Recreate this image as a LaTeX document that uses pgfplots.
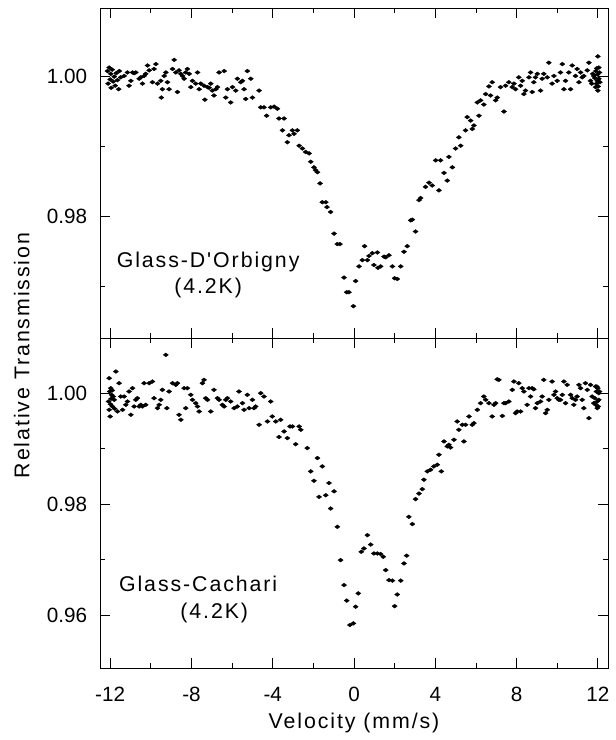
\documentclass[border=0pt]{standalone}
\usepackage{fontspec}
\setmainfont{Liberation Sans}
\newfontfamily\spaced[LetterSpace=9]{Liberation Sans}
\usepackage{pgfplots}
\pgfplotsset{compat=1.18}

\pgfplotsset{
  panel/.style={
    scale only axis,
    width=381pt, height=247.5pt,
    xmin=-12.5, xmax=12.5,
    xtick={-12,-8,...,12},
    minor x tick num=1,
    minor ytick={0.97,0.99},
    tick align=inside,
    major tick length=7.5pt,
    minor tick length=3.75pt,
    every tick/.style={black, line width=0.6pt},
    axis line style={line width=0.6pt},
    scaled y ticks=false,
    /pgf/number format/assume math mode=true,
    tick label style={font=\fontsize{15.5}{18}\selectfont, inner sep=0pt},
    xticklabel style={anchor=base, yshift=-25pt},
    yticklabel style={anchor=east, xshift=-9.5pt,
      /pgf/number format/fixed, /pgf/number format/fixed zerofill,
      /pgf/number format/precision=2},
  },
  spec/.style={only marks, mark=diamond*, mark size=1.95pt,
    mark options={rotate=90, draw=black, fill=black, line width=0.25pt}},
}
\tikzset{note/.style={anchor=base, inner sep=0pt, font=\spaced\fontsize{16}{18}\selectfont}}

\begin{document}
\begin{tikzpicture}
\useasboundingbox (-75pt,-53.8pt) rectangle (386.25pt,501.2pt);

% lower panel: Glass-Cachari
\begin{axis}[panel,
  ymin=0.9504, ymax=1.0099,
  ytick={0.96,0.98,1.00},
  xlabel={\spaced Velocity (mm/s)},
  xlabel style={at={(axis description cs:0.5,0)}, anchor=base, yshift=-44.8pt,
    inner sep=0pt, font=\fontsize{16}{18}\selectfont},
]
\addplot[spec] coordinates {
(-12.08,0.9985) (-12.05,1.0027) (-12.05,0.9970) (-12.02,1.0003) (-12.00,0.9958)
(-11.98,0.9980) (-11.97,1.0009) (-11.95,0.9990) (-11.93,0.9997) (-11.90,1.0005)
(-11.89,0.9976) (-11.85,0.9994) (-11.80,0.9988) (-11.78,0.9972) (-11.72,1.0039)
(-11.64,0.9967) (-11.56,1.0018) (-11.48,0.9994) (-11.39,0.9970) (-11.31,0.9994)
(-11.23,0.9979) (-11.15,0.9985) (-11.07,1.0003) (-10.98,0.9961) (-10.90,1.0009)
(-10.82,0.9976) (-10.74,0.9988) (-10.66,0.9991) (-10.57,0.9976) (-10.49,0.9979)
(-10.41,0.9976) (-10.33,1.0018) (-10.25,0.9979) (-10.08,1.0018) (-9.92,1.0021)
(-9.84,0.9991) (-9.67,0.9973) (-9.59,0.9979) (-9.51,0.9988) (-9.43,1.0006)
(-9.26,1.0069) (-9.21,0.9973) (-9.10,1.0003) (-8.93,1.0018) (-8.77,1.0015)
(-8.69,1.0018) (-8.61,0.9961) (-8.52,0.9952) (-8.36,1.0009) (-8.28,0.9973)
(-8.20,1.0009) (-8.03,0.9997) (-7.95,0.9988) (-7.79,0.9982) (-7.70,0.9976)
(-7.62,0.9967) (-7.46,1.0018) (-7.38,1.0024) (-7.30,0.9991) (-7.21,0.9988)
(-7.05,0.9967) (-6.89,1.0006) (-6.72,0.9991) (-6.64,0.9988) (-6.48,0.9979)
(-6.39,0.9976) (-6.31,0.9988) (-6.23,0.9991) (-6.07,0.9985) (-5.90,0.9973)
(-5.74,0.9976) (-5.66,1.0003) (-5.49,0.9982) (-5.41,0.9970) (-5.25,0.9997)
(-5.16,0.9973) (-5.00,0.9988) (-4.92,0.9973) (-4.84,0.9976) (-4.67,0.9943)
(-4.59,1.0000) (-4.43,0.9994) (-4.26,0.9949) (-4.10,0.9985) (-4.02,0.9958)
(-3.85,0.9949) (-3.69,0.9921) (-3.61,0.9952) (-3.44,0.9931) (-3.28,0.9919)
(-3.15,0.9940) (-3.03,0.9940) (-2.87,0.9908) (-2.70,0.9940) (-2.62,0.9934)
(-2.30,0.9901) (-2.13,0.9859) (-1.97,0.9842) (-1.80,0.9883) (-1.72,0.9813)
(-1.56,0.9868) (-1.39,0.9816) (-1.23,0.9838) (-1.15,0.9792) (-0.98,0.9823)
(-0.82,0.9759) (-0.66,0.9699) (-0.49,0.9654) (-0.36,0.9626) (-0.20,0.9582)
(-0.03,0.9585) (0.08,0.9615) (0.21,0.9639) (0.36,0.9714) (0.49,0.9720)
(0.66,0.9744) (0.82,0.9727) (0.98,0.9711) (1.15,0.9711) (1.31,0.9710)
(1.44,0.9705) (1.56,0.9681) (1.72,0.9663) (1.89,0.9662) (2.00,0.9616)
(2.13,0.9637) (2.30,0.9662) (2.46,0.9693) (2.59,0.9707) (2.70,0.9777)
(2.87,0.9764) (3.03,0.9809) (3.20,0.9819) (3.36,0.9827) (3.44,0.9844)
(3.61,0.9859) (3.77,0.9862) (3.93,0.9868) (4.10,0.9871) (4.18,0.9889)
(4.30,0.9859) (4.43,0.9913) (4.59,0.9904) (4.67,0.9907) (4.75,0.9902)
(4.92,0.9916) (5.08,0.9949) (5.16,0.9934) (5.33,0.9943) (5.41,0.9913)
(5.49,0.9943) (5.66,0.9958) (5.82,0.9943) (5.90,0.9946) (6.07,0.9970)
(6.23,0.9982) (6.39,0.9994) (6.48,0.9988) (6.64,0.9982) (6.80,0.9958)
(6.89,0.9979) (6.97,0.9982) (7.05,1.0025) (7.13,1.0024) (7.30,0.9959)
(7.38,0.9982) (7.46,0.9982) (7.62,0.9985) (7.79,1.0006) (7.87,1.0021)
(7.95,0.9964) (8.03,0.9967) (8.11,1.0018) (8.20,0.9967) (8.28,1.0009)
(8.36,1.0003) (8.52,0.9979) (8.61,1.0009) (8.69,0.9994) (8.77,1.0009)
(8.85,1.0007) (8.93,0.9973) (9.02,0.9982) (9.18,0.9985) (9.26,0.9994)
(9.34,1.0024) (9.43,0.9964) (9.51,0.9970) (9.59,0.9988) (9.75,1.0021)
(9.84,0.9997) (9.92,1.0003) (10.00,0.9991) (10.08,0.9988) (10.16,0.9988)
(10.25,0.9997) (10.33,1.0021) (10.41,0.9982) (10.49,1.0015) (10.66,0.9997)
(10.74,0.9991) (10.82,0.9979) (10.90,0.9988) (10.98,0.9994) (11.07,1.0015)
(11.15,1.0009) (11.23,0.9988) (11.31,0.9973) (11.39,1.0018) (11.48,1.0006)
(11.56,0.9955) (11.64,1.0015) (11.72,0.9994) (11.80,0.9982) (11.85,0.9991)
(11.89,1.0012) (11.90,0.9979) (11.93,1.0003) (11.95,1.0012) (11.97,0.9973)
(11.97,0.9985) (12.00,1.0009) (12.02,0.9976) (12.05,1.0000) (12.05,0.9988)
(12.08,1.0003)
};
\node[note] at (axis cs:-7.67,0.96419) {Glass-Cachari};
\node[note] at (axis cs:-6.88,0.95939) {(4.2K)};
\end{axis}

% upper panel: Glass-D'Orbigny
\begin{axis}[panel,
  at={(0pt,247.5pt)}, anchor=south west,
  ymin=0.9625, ymax=1.0098,
  ytick={0.98,1.00},
  xticklabels={},
]
\addplot[spec] coordinates {
(-12.13,1.0008) (-12.10,0.9990) (-12.05,1.0013) (-12.00,0.9996) (-11.97,1.0004)
(-11.95,0.9984) (-11.90,1.0010) (-11.85,0.9993) (-11.80,1.0000) (-11.75,0.9987)
(-11.70,1.0005) (-11.64,0.9995) (-11.58,0.9982) (-11.55,1.0008) (-11.48,0.9999)
(-11.31,1.0001) (-11.15,1.0006) (-11.07,0.9987) (-10.98,0.9994) (-10.90,1.0006)
(-10.82,1.0005) (-10.74,1.0006) (-10.57,0.9997) (-10.49,0.9999) (-10.41,0.9990)
(-10.33,1.0001) (-10.25,1.0004) (-10.16,1.0016) (-10.08,1.0009) (-9.92,0.9992)
(-9.84,1.0011) (-9.75,1.0018) (-9.67,0.9990) (-9.51,0.9994) (-9.48,0.9970)
(-9.43,0.9982) (-9.34,1.0001) (-9.26,1.0006) (-9.18,0.9992) (-9.10,0.9982)
(-8.93,1.0011) (-8.85,1.0024) (-8.77,1.0006) (-8.69,0.9978) (-8.61,1.0009)
(-8.52,1.0004) (-8.44,1.0001) (-8.36,0.9997) (-8.28,1.0006) (-8.20,1.0011)
(-8.11,1.0004) (-8.03,0.9985) (-7.95,0.9994) (-7.79,0.9990) (-7.70,1.0006)
(-7.62,0.9982) (-7.54,0.9990) (-7.38,0.9987) (-7.34,0.9967) (-7.21,0.9985)
(-7.13,0.9984) (-7.05,0.9990) (-6.97,0.9980) (-6.89,0.9973) (-6.80,0.9982)
(-6.72,0.9985) (-6.64,1.0006) (-6.39,1.0008) (-6.31,0.9970) (-6.23,0.9982)
(-6.07,0.9963) (-5.98,0.9985) (-5.82,0.9980) (-5.74,0.9997) (-5.57,0.9992)
(-5.49,0.9994) (-5.41,0.9982) (-5.33,0.9968) (-5.25,1.0008) (-5.08,0.9997)
(-5.00,0.9970) (-4.67,0.9980) (-4.59,0.9956) (-4.43,0.9956) (-4.30,0.9944)
(-4.10,0.9956) (-3.93,0.9957) (-3.77,0.9954) (-3.69,0.9940) (-3.52,0.9923)
(-3.44,0.9940) (-3.28,0.9906) (-3.20,0.9916) (-3.03,0.9923) (-2.95,0.9918)
(-2.79,0.9923) (-2.70,0.9901) (-2.54,0.9897) (-2.38,0.9892) (-2.21,0.9890)
(-2.13,0.9878) (-1.97,0.9870) (-1.89,0.9866) (-1.80,0.9863) (-1.67,0.9847)
(-1.56,0.9820) (-1.39,0.9820) (-1.33,0.9813) (-1.15,0.9806) (-0.98,0.9775)
(-0.82,0.9760) (-0.69,0.9760) (-0.49,0.9712) (-0.36,0.9691) (-0.25,0.9691)
(-0.03,0.9671) (0.08,0.9707) (0.25,0.9728) (0.41,0.9737) (0.52,0.9757)
(0.66,0.9737) (0.74,0.9743) (0.90,0.9747) (0.98,0.9730) (1.15,0.9748)
(1.18,0.9726) (1.31,0.9728) (1.48,0.9742) (1.56,0.9741) (1.72,0.9744)
(1.89,0.9728) (2.00,0.9711) (2.13,0.9710) (2.30,0.9728) (2.46,0.9749)
(2.62,0.9757) (2.79,0.9794) (2.87,0.9795) (3.03,0.9778) (3.20,0.9823)
(3.28,0.9826) (3.52,0.9842) (3.69,0.9848) (3.85,0.9844) (4.02,0.9880)
(4.18,0.9837) (4.26,0.9880) (4.43,0.9862) (4.59,0.9851) (4.67,0.9885)
(4.84,0.9870) (5.00,0.9897) (5.16,0.9913) (5.25,0.9901) (5.49,0.9923)
(5.57,0.9942) (5.74,0.9937) (5.82,0.9925) (5.90,0.9930) (6.07,0.9963)
(6.15,0.9944) (6.23,0.9966) (6.39,0.9960) (6.48,0.9975) (6.64,0.9986)
(6.72,0.9973) (6.80,0.9992) (6.97,0.9966) (7.05,0.9970) (7.21,0.9985)
(7.38,0.9950) (7.46,0.9987) (7.62,0.9992) (7.79,0.9985) (7.87,0.9990)
(7.95,0.9982) (8.11,0.9999) (8.20,0.9987) (8.28,0.9994) (8.36,0.9975)
(8.44,0.9980) (8.61,0.9999) (8.69,1.0006) (8.77,0.9978) (8.85,0.9992)
(8.93,0.9999) (9.02,1.0004) (9.18,0.9980) (9.26,0.9997) (9.34,1.0004)
(9.51,0.9999) (9.59,1.0020) (9.75,0.9990) (9.84,1.0001) (10.00,0.9994)
(10.16,1.0006) (10.25,1.0018) (10.33,0.9982) (10.41,0.9994) (10.57,1.0006)
(10.66,0.9982) (10.74,1.0016) (10.90,1.0001) (10.98,1.0011) (11.07,0.9992)
(11.15,1.0006) (11.23,0.9999) (11.31,1.0001) (11.48,1.0009) (11.56,1.0020)
(11.64,0.9994) (11.70,0.9990) (11.75,1.0004) (11.80,1.0001) (11.85,0.9998)
(11.89,0.9985) (11.90,1.0008) (11.93,0.9990) (11.95,1.0012) (11.97,0.9994)
(11.98,1.0003) (12.00,1.0029) (12.00,0.9980) (12.02,0.9986) (12.05,1.0013)
(12.05,0.9997) (12.08,1.0006) (12.10,0.9992)
};
\node[note] at (axis cs:-7.18,0.97264) {Glass-D'Orbigny};
\node[note] at (axis cs:-7.18,0.96886) {(4.2K)};
\end{axis}

\node[rotate=90, inner sep=0pt, font=\spaced\fontsize{16}{18}\selectfont]
  at (-58.7pt,234.6pt) {Relative Transmission};
\end{tikzpicture}
\end{document}
